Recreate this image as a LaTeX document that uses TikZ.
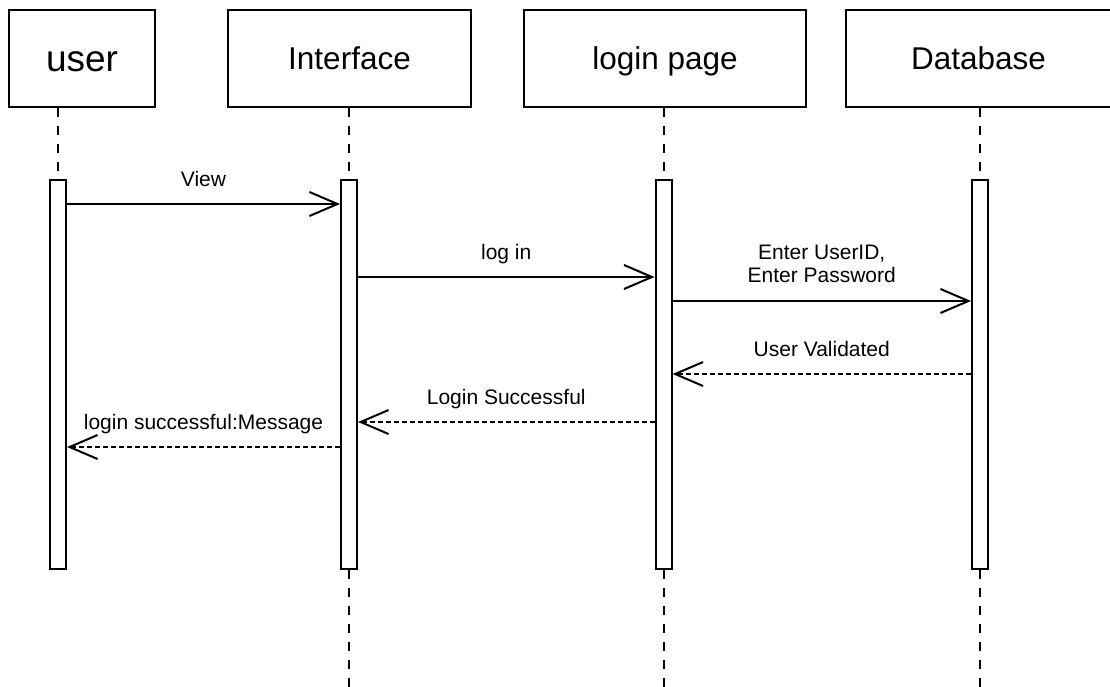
\documentclass[tikz,border=0pt]{standalone}
\usepackage{fontspec}
\setmainfont{Liberation Sans}
\usetikzlibrary{arrows.meta}
\begin{document}
\begin{tikzpicture}[x=1pt,y=-1pt,
  head/.style={draw, line width=2pt, minimum height=97pt, inner sep=0pt,
               text height=23pt, text depth=0pt,
               font=\fontsize{31.5}{36}\selectfont},
  actbar/.style={draw, fill=white, line width=2pt, minimum width=16pt,
                 minimum height=389pt, inner sep=0pt},
  lifeline/.style={line width=2pt, dash pattern=on 9pt off 9pt},
  call/.style={line width=2pt, -{Straight Barb[length=28pt,width=24pt,line width=2pt]}},
  reply/.style={call, dash pattern=on 5pt off 3pt},
  lbl/.style={font=\fontsize{21}{23}\selectfont, inner sep=0pt, anchor=base, yshift=17.5pt}
]
\useasboundingbox (0,0) rectangle (1110,687);

% participant heads
\node[head, minimum width=146pt, text height=27pt, font=\fontsize{37}{40}\selectfont] (user) at (82,58.5) {user};
\node[head, minimum width=243pt] (iface) at (349.5,58.5) {Interface};
\node[head, minimum width=282pt] (login) at (665,58.5) {login page};
\node[head, minimum width=265pt] (db) at (978.5,58.5) {Database};

% activation bars
\node[actbar] (ubar) at (58,374.5) {};
\node[actbar] (ibar) at (349,374.5) {};
\node[actbar] (lbar) at (663.5,374.5) {};
\node[actbar] (dbar) at (980,374.5) {};

% lifelines: head to bar, and below the bar to the bottom edge
\coordinate (ibot) at (349,687);
\coordinate (lbot) at (663.5,687);
\coordinate (dbot) at (980,687);
\draw[lifeline] (ubar.north |- user.south) -- (ubar.north);
\draw[lifeline] (ibar.north |- iface.south) -- (ibar.north);
\draw[lifeline] (lbar.north |- login.south) -- (lbar.north);
\draw[lifeline] (dbar.north |- db.south) -- (dbar.north);
\draw[lifeline] (ibar.south) -- (ibot);
\draw[lifeline] (lbar.south) -- (lbot);
\draw[lifeline] (dbar.south) -- (dbot);

% messages
\draw[call] (ubar.east |- 0,204) -- node[lbl] {View} (ibar.west |- 0,204);
\draw[call] (ibar.east |- 0,277) -- node[lbl] {log in} (lbar.west |- 0,277);
\draw[call] (lbar.east |- 0,301) -- node[lbl, anchor=south, align=center]
  {Enter UserID,\\Enter Password} (dbar.west |- 0,301);
\draw[reply] (dbar.west |- 0,374) -- node[lbl] {User Validated} (lbar.east |- 0,374);
\draw[reply] (lbar.west |- 0,422) -- node[lbl] {Login Successful} (ibar.east |- 0,422);
\draw[reply] (ibar.west |- 0,447) -- node[lbl] {login successful:Message} (ubar.east |- 0,447);
\end{tikzpicture}
\end{document}
